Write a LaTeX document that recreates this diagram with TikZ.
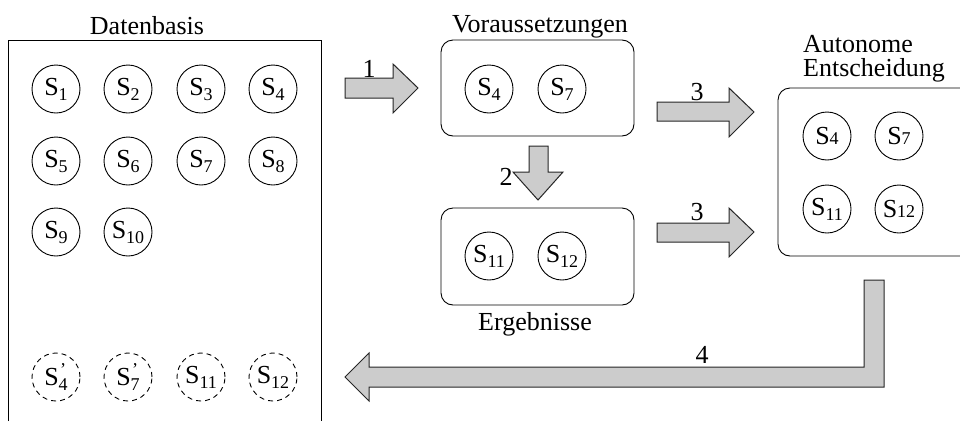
\documentclass[tikz,border=0pt]{standalone}
\usepackage{fontspec}
\setmainfont{Liberation Serif}
\newcommand\sbs[1]{\raisebox{-5pt}{\fontsize{18}{18}\selectfont #1}}
\newcommand\sbn[1]{{\fontsize{18}{18}\selectfont #1}}
\newcommand\sbp[1]{\raisebox{-5pt}{\fontsize{18}{18}\selectfont\shortstack{\raisebox{-6pt}{'}\\#1}}}
\tikzset{
  circ/.style={circle, draw, line width=0.9pt, minimum size=48pt, inner sep=0pt, font=\fontsize{26}{26}\selectfont},
  dcirc/.style={circ, dash pattern=on 5pt off 4pt},
  blk/.style={fill=black!20, draw=black!85, line width=1pt, line join=miter},
  lbl/.style={font=\fontsize{26}{26}\selectfont, inner sep=0pt},
  boxr/.style={draw, line width=0.9pt, rounded corners=12pt, inner sep=0pt},
}
\begin{document}
\begin{tikzpicture}[x=1pt,y=-1pt]
\useasboundingbox (0,0) rectangle (960,421);
% Datenbasis
\draw[line width=0.9pt] (8,421) -- (8,40) -- (321,40) -- (321,421);
\node[lbl, anchor=base] (tdb) at (147,34) {Datenbasis};
\node[circ] (d1) at (56,89) {S\sbs{1}};
\node[circ] (d2) at (128,89) {S\sbs{2}};
\node[circ] (d3) at (201,89) {S\sbs{3}};
\node[circ] (d4) at (273,89) {S\sbs{4}};
\node[circ] (d5) at (56,161) {S\sbs{5}};
\node[circ] (d6) at (128,161) {S\sbs{6}};
\node[circ] (d7) at (201,161) {S\sbs{7}};
\node[circ] (d8) at (273,161) {S\sbs{8}};
\node[circ] (d9) at (56,232) {S\sbs{9}};
\node[circ] (d10) at (128,232) {S\sbs{10}};
\node[dcirc] (e4) at (56,377) {S\sbp{4}};
\node[dcirc] (e7) at (128,377) {S\sbp{7}};
\node[dcirc] (e11) at (201,377) {S\sbs{11}};
\node[dcirc] (e12) at (273,377) {S\sbs{12}};
% Voraussetzungen
\node[boxr, minimum width=193pt, minimum height=96pt] (vor) at (537.5,88) {};
\node[lbl, anchor=base] (tvor) at (540,32) {Voraussetzungen};
\node[circ] (v4) at (489,89) {S\sbs{4}};
\node[circ] (v7) at (562,89) {S\sbs{7}};
% Ergebnisse
\node[boxr, minimum width=193pt, minimum height=97pt] (erg) at (537.5,256.5) {};
\node[lbl, anchor=base] (terg) at (535,330) {Ergebnisse};
\node[circ] (r11) at (489,256) {S\sbs{11}};
\node[circ] (r12) at (562,256) {S\sbs{12}};
% Autonome Entscheidung
\draw[line width=0.9pt, rounded corners=12pt] (965,88) -- (778,88) -- (778,256) -- (965,256);
\node[lbl, anchor=base west] (ta1) at (803,52) {Autonome};
\node[lbl, anchor=base west] (ta2) at (803,76) {Entscheidung};
\node[circ] (a4) at (827,136) {S\sbn{4}};
\node[circ] (a7) at (899,136) {S\sbn{7}};
\node[circ] (a11) at (827,209) {S\sbs{11}};
\node[circ] (a12) at (899,209) {S\sbn{12}};
% Arrow 1
\draw[blk] (345,78) -- (393,78) -- (393,64) -- (418,88) -- (393,113) -- (393,98) -- (345,98) -- cycle;
\node[lbl] (l1) at (369,69) {1};
% Arrow 2
\draw[blk] (529,146) -- (548,146) -- (548,172) -- (563,172) -- (538,200) -- (513,172) -- (529,172) -- cycle;
\node[lbl] (l2) at (506,177) {2};
% Arrow 3 (top)
\draw[blk] (657,102) -- (729,102) -- (729,88) -- (754,112) -- (729,137) -- (729,121) -- (657,121) -- cycle;
\node[lbl] (l3a) at (697,92) {3};
% Arrow 3 (bottom)
\draw[blk] (657,223) -- (729,223) -- (729,208) -- (754,232) -- (729,257) -- (729,242) -- (657,242) -- cycle;
\node[lbl] (l3b) at (697,212) {3};
% Arrow 4
\draw[blk] (864,280) -- (884,280) -- (884,387) -- (369,387) -- (369,401) -- (345,377) -- (369,353) -- (369,367) -- (864,367) -- cycle;
\node[lbl] (l4) at (702,355) {4};
\end{tikzpicture}
\end{document}
